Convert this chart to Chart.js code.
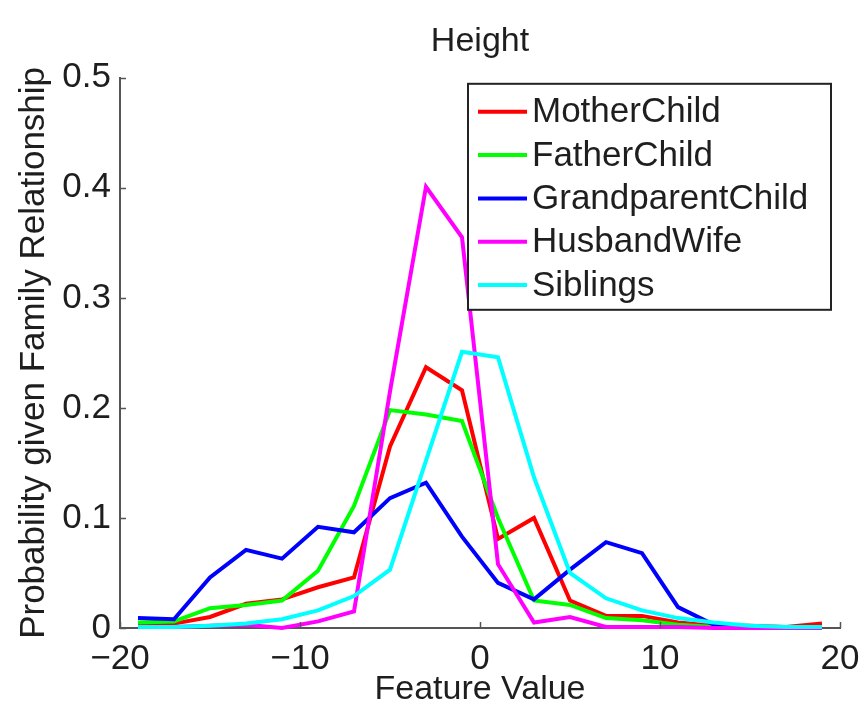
<!DOCTYPE html>
<html>
<head>
<meta charset="utf-8">
<script src="https://cdn.jsdelivr.net/npm/chart.js@4.4.1/dist/chart.umd.min.js"></script>
<style>
  html, body { margin: 0; padding: 0; background: #ffffff; }
  #wrap { width: 862px; height: 707px; }
</style>
</head>
<body>
<div id="wrap"><canvas id="c" width="862" height="707"></canvas></div>
<script>
// ---- Data ----
const featureValues = [-19, -17, -15, -13, -11, -9, -7, -5, -3, -1, 1, 3, 5, 7, 9, 11, 13, 15, 17, 19];
const seriesNames = ['MotherChild', 'FatherChild', 'GrandparentChild', 'HusbandWife', 'Siblings'];
const motherChild      = [0.004, 0.004, 0.010, 0.022, 0.026, 0.037, 0.046, 0.165, 0.237, 0.216, 0.081, 0.100, 0.025, 0.011, 0.011, 0.005, 0.002, 0.002, 0.001, 0.004];
const fatherChild      = [0.005, 0.006, 0.018, 0.021, 0.025, 0.052, 0.111, 0.198, 0.194, 0.188, 0.100, 0.025, 0.021, 0.009, 0.007, 0.003, 0.001, 0.001, 0.001, 0.001];
const grandparentChild = [0.009, 0.008, 0.046, 0.071, 0.063, 0.092, 0.087, 0.118, 0.132, 0.083, 0.041, 0.026, 0.053, 0.078, 0.068, 0.019, 0.003, 0.001, 0.001, 0.001];
const husbandWife      = [0.001, 0.001, 0.002, 0.003, 0.000, 0.006, 0.015, 0.215, 0.401, 0.355, 0.058, 0.005, 0.010, 0.001, 0.001, 0.001, 0.000, 0.000, 0.000, 0.000];
const siblings         = [0.001, 0.001, 0.002, 0.004, 0.008, 0.016, 0.029, 0.053, 0.152, 0.251, 0.246, 0.137, 0.050, 0.027, 0.016, 0.009, 0.005, 0.002, 0.001, 0.001];
const xTickValues = [-20, -10, 0, 10, 20];
const yTickValues = [0, 0.1, 0.2, 0.3, 0.4, 0.5];
const chartTitle = 'Height';
const xAxisTitle = 'Feature Value';
const yAxisTitle = 'Probability given Family Relationship';

// ---- Styles ----
const seriesColors = ['#ff0000', '#00ff00', '#0000ff', '#ff00ff', '#00ffff'];
const FONT = "'Liberation Sans', Arial, Helvetica, sans-serif";
const TEXT = '#1e1e1e';
const AXIS = '#555555';

function toPoints(vals) {
  return featureValues.map((x, i) => ({ x: x, y: vals[i] }));
}
const allSeries = [motherChild, fatherChild, grandparentChild, husbandWife, siblings];
const datasets = allSeries.map((vals, i) => ({
  label: seriesNames[i],
  data: toPoints(vals),
  borderColor: seriesColors[i],
  backgroundColor: seriesColors[i],
  borderWidth: 4,
  pointRadius: 0,
  tension: 0,
  fill: false,
  clip: false,
  order: allSeries.length - i
}));

// inward tick marks (MATLAB style)
const innerTicks = {
  id: 'innerTicks',
  afterDatasetsDraw(chart) {
    const ctx = chart.ctx;
    const xs = chart.scales.x, ys = chart.scales.y;
    const a = chart.chartArea;
    ctx.save();
    ctx.strokeStyle = AXIS;
    ctx.lineWidth = 1.5;
    ctx.beginPath();
    xTickValues.forEach(v => {
      const px = Math.round(xs.getPixelForValue(v)) + 0.5;
      ctx.moveTo(px, a.bottom);
      ctx.lineTo(px, a.bottom - 6);
    });
    yTickValues.forEach(v => {
      const py = Math.round(ys.getPixelForValue(v)) + 0.5;
      ctx.moveTo(a.left, py);
      ctx.lineTo(a.left + 6, py);
    });
    ctx.stroke();
    ctx.restore();
  }
};

// boxed legend in the upper right of the plot area
const boxLegend = {
  id: 'boxLegend',
  afterDraw(chart) {
    const ctx = chart.ctx;
    const a = chart.chartArea;
    const left = 468, top = a.top + 6, right = a.right - 9, bottom = a.top + 232;
    ctx.save();
    ctx.fillStyle = '#ffffff';
    ctx.fillRect(left, top, right - left, bottom - top);
    ctx.strokeStyle = '#222222';
    ctx.lineWidth = 2;
    ctx.strokeRect(left, top, right - left, bottom - top);
    ctx.font = '35px ' + FONT;
    ctx.textBaseline = 'middle';
    ctx.textAlign = 'left';
    chart.data.datasets.forEach((ds, i) => {
      const y = top + 28 + i * 43.3;
      ctx.strokeStyle = ds.borderColor;
      ctx.lineWidth = 4;
      ctx.beginPath();
      ctx.moveTo(left + 10, y);
      ctx.lineTo(left + 59, y);
      ctx.stroke();
      ctx.fillStyle = TEXT;
      ctx.fillText(ds.label, left + 64, y + 1);
    });
    ctx.restore();
  }
};

new Chart(document.getElementById('c'), {
  type: 'line',
  data: { datasets: datasets },
  plugins: [innerTicks, boxLegend],
  options: {
    responsive: false,
    animation: false,
    devicePixelRatio: 1,
    layout: { padding: { left: 0, right: 22, top: 0, bottom: 0 } },
    plugins: {
      legend: { display: false },
      tooltip: { enabled: false },
      title: {
        display: true,
        fullSize: false,
        text: chartTitle,
        color: TEXT,
        font: { family: FONT, size: 34, weight: 'normal', lineHeight: 1.2 },
        padding: { top: 21, bottom: 16 }
      }
    },
    scales: {
      x: {
        type: 'linear',
        min: -20,
        max: 20,
        afterFit(scale) { scale.height = 79; scale.paddingRight = 0; scale.paddingLeft = 0; },
        afterBuildTicks(scale) { scale.ticks = xTickValues.map(v => ({ value: v })); },
        ticks: {
          color: TEXT,
          font: { family: FONT, size: 35 },
          padding: 10,
          maxRotation: 0,
          callback: v => (v < 0 ? '\u2212' + Math.abs(v) : String(v))
        },
        grid: { display: false, drawTicks: false },
        border: { display: true, color: AXIS, width: 2 },
        title: {
          display: true,
          text: xAxisTitle,
          color: TEXT,
          font: { family: FONT, size: 34, lineHeight: 1.0 },
          padding: { top: 0, bottom: 0 }
        }
      },
      y: {
        type: 'linear',
        min: 0,
        max: 0.5,
        afterFit(scale) { scale.width = 120; },
        afterBuildTicks(scale) { scale.ticks = yTickValues.map(v => ({ value: v })); },
        ticks: {
          color: TEXT,
          font: { family: FONT, size: 35 },
          padding: 9,
          callback: v => String(Math.round(v * 10) / 10)
        },
        grid: { display: false, drawTicks: false },
        border: { display: true, color: AXIS, width: 2 },
        title: {
          display: true,
          text: yAxisTitle,
          color: TEXT,
          font: { family: FONT, size: 35, lineHeight: 1.2 },
          padding: { top: 13, bottom: 0 }
        }
      }
    }
  }
});
</script>
</body>
</html>
